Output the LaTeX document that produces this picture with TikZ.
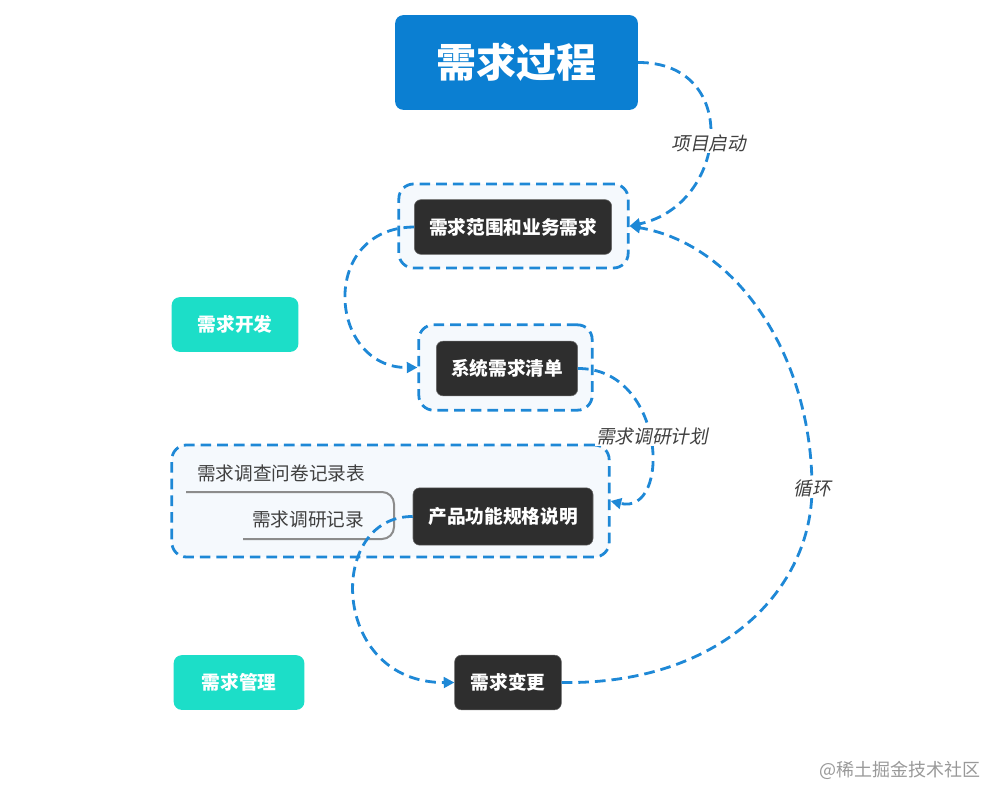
\documentclass[tikz,border=0pt]{standalone}
\usepackage{fontspec}
\setmainfont{Noto Sans CJK SC}[AutoFakeSlant=0.2]
\usetikzlibrary{arrows.meta}
\definecolor{titleblue}{HTML}{0B7FD2}
\definecolor{linkblue}{HTML}{1E88D6}
\definecolor{topicdark}{HTML}{2E2E2E}
\definecolor{tagteal}{HTML}{1CDEC8}
\definecolor{groupfill}{HTML}{F5F9FD}
\begin{document}
\begin{tikzpicture}[x=0.75pt, y=-0.75pt,
  title/.style={fill=titleblue, rounded corners=6pt, text=white, font=\fontsize{30}{32}\selectfont\bfseries,
    minimum width=182pt, minimum height=71pt},
  topic/.style={fill=topicdark, draw=black!60, rounded corners=5pt, text=white, font=\fontsize{14}{16}\selectfont\bfseries,
    minimum height=41pt},
  tag/.style={fill=tagteal, rounded corners=6pt, text=white, font=\fontsize{14}{16}\selectfont\bfseries,
    minimum width=95pt, minimum height=41pt},
  group/.style={draw=linkblue, fill=groupfill, line width=2.1pt, dash pattern=on 8pt off 4.5pt, rounded corners=11pt},
  link/.style={draw=linkblue, line width=2.1pt, dash pattern=on 8pt off 4.5pt, -{Triangle[length=8pt,width=8pt]}},
  linklabel/.style={fill=white, inner sep=1pt, text=black!75, font=\fontsize{14}{16}\selectfont\slshape},
  note/.style={text=black!75, font=\fontsize{14}{16}\selectfont}]
\useasboundingbox (0,0) rectangle (984,788);

%--- TITLE ---
\node[title] (proc) at (516.5,62.5) {需求过程};

%--- GROUPS (dashed frames) ---
\node[group, minimum width=172pt, minimum height=63pt] (scopebox) at (513.5,226) {};
\node[group, minimum width=130pt, minimum height=64pt] (listbox) at (505.5,367.5) {};
\node[group, minimum width=328pt, minimum height=84pt] (specbox) at (390.5,501) {};

%--- TOPICS ---
\node[topic, minimum width=148pt] (scope) at (513,227) {需求范围和业务需求};
\node[topic, minimum width=106pt] (list) at (507,368.5) {系统需求清单};
\node[topic, minimum width=135pt, minimum height=43pt] (spec) at (503,516.5) {产品功能规格说明};
\node[topic, minimum width=80pt] (change) at (508,682.5) {需求变更};

%--- TAGS ---
\node[tag] (dev) at (235,324.5) {需求开发};
\node[tag, minimum width=98pt] (mgmt) at (239,682.5) {需求管理};

%--- NOTES in the spec frame ---
\node[note] (survey) at (281,473) {需求调查问卷记录表};
\node[note] (record) at (308,519) {需求调研记录};
\draw[black!45, line width=1.5pt, rounded corners=9pt] (186,492) -| (394,539) -- (243,539);

%--- LINKS ---
\draw[link] (proc.east) .. controls (742,62) and (728,205) .. (scopebox.east)
  node[linklabel, pos=0.53] {项目启动};
\draw[link] (scope.west) .. controls (318,228) and (328,368) .. (listbox.west);
\draw[link] (list.east) .. controls (666,368) and (672,516) .. (specbox.east)
  node[linklabel, pos=0.48, xshift=2pt] {需求调研计划};
\draw[link] (spec.west) .. controls (326,516) and (330,683) .. (change.west);
\coordinate (loop) at (812,488);
\draw[link] (change.east) .. controls (720,685) and (812,590) .. (loop)
  .. controls (812,360) and (740,245) .. (scopebox.east);
\node[linklabel] (looplabel) at (loop) {循环};

%--- WATERMARK ---
\node[text=black!40, font=\fontsize{13.5}{15}\selectfont] (mark) at (900,770) {@稀土掘金技术社区};
\end{tikzpicture}
\end{document}
